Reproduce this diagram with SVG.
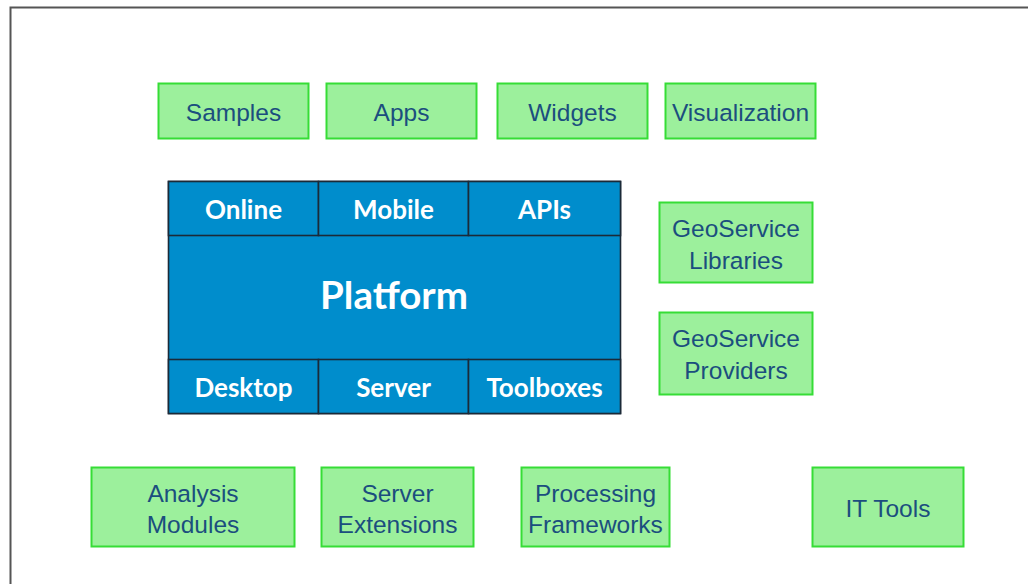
<svg xmlns="http://www.w3.org/2000/svg" width="1028" height="584" viewBox="0 0 1028 584">
  <style>
    .g rect { fill: #9cf09c; stroke: #36dd36; stroke-width: 2; }
    .g text { font-family: "Liberation Sans", Arial, sans-serif; font-size: 24.5px; fill: #1b4e7e; text-anchor: middle; }
    .b rect { fill: #008dcc; stroke: #1b2a38; stroke-width: 1.6; }
    .b text { font-family: Lato, "Liberation Sans", sans-serif; font-weight: bold; font-size: 26px; fill: #ffffff; text-anchor: middle; }
    .b text.title { font-size: 38.5px; }
    .frame { fill: none; stroke: #555555; stroke-width: 2; }
  </style>

  <rect x="0" y="0" width="1028" height="584" fill="#ffffff"/>
  <path class="frame" d="M10.5 584 V7.5 H1028"/>

  <!-- top row -->
  <g id="samples" class="g"><rect x="158.5" y="83.5" width="150" height="55"/><text x="233.5" y="121">Samples</text></g>
  <g id="apps" class="g"><rect x="326.5" y="83.5" width="150" height="55"/><text x="401.5" y="121">Apps</text></g>
  <g id="widgets" class="g"><rect x="497.5" y="83.5" width="150" height="55"/><text x="572.5" y="121">Widgets</text></g>
  <g id="visualization" class="g"><rect x="665.5" y="83.5" width="150" height="55"/><text x="740.5" y="121">Visualization</text></g>

  <!-- platform block -->
  <g id="platform" class="b">
    <rect x="168.5" y="181.5" width="452" height="232"/>
    <text class="title" x="394" y="309">Platform</text>
  </g>
  <g id="online" class="b"><rect x="168.5" y="181.5" width="150" height="54"/><text x="243.5" y="218.5">Online</text></g>
  <g id="mobile" class="b"><rect x="318.5" y="181.5" width="150" height="54"/><text x="393.5" y="218.5">Mobile</text></g>
  <g id="apis" class="b"><rect x="468.5" y="181.5" width="152" height="54"/><text x="544.5" y="218.5">APIs</text></g>
  <g id="desktop" class="b"><rect x="168.5" y="359.5" width="150" height="54"/><text x="243.5" y="397">Desktop</text></g>
  <g id="server" class="b"><rect x="318.5" y="359.5" width="150" height="54"/><text x="393.5" y="397">Server</text></g>
  <g id="toolboxes" class="b"><rect x="468.5" y="359.5" width="152" height="54"/><text x="544.5" y="397">Toolboxes</text></g>

  <!-- right column -->
  <g id="geoservice-libraries" class="g"><rect x="659.5" y="202.5" width="153" height="80"/><text x="736" y="237">GeoService</text><text x="736" y="268.5">Libraries</text></g>
  <g id="geoservice-providers" class="g"><rect x="659.5" y="312.5" width="153" height="82"/><text x="736" y="347">GeoService</text><text x="736" y="378.5">Providers</text></g>

  <!-- bottom row -->
  <g id="analysis-modules" class="g"><rect x="91.5" y="467.5" width="203" height="79"/><text x="193" y="502">Analysis</text><text x="193" y="533">Modules</text></g>
  <g id="server-extensions" class="g"><rect x="321.5" y="467.5" width="152" height="79"/><text x="397.5" y="502">Server</text><text x="397.5" y="533">Extensions</text></g>
  <g id="processing-frameworks" class="g"><rect x="521.5" y="467.5" width="148" height="79"/><text x="595.5" y="502">Processing</text><text x="595.5" y="533">Frameworks</text></g>
  <g id="it-tools" class="g"><rect x="812.5" y="467.5" width="151" height="79"/><text x="888" y="517">IT Tools</text></g>

  <g id="connectors"></g>
</svg>
